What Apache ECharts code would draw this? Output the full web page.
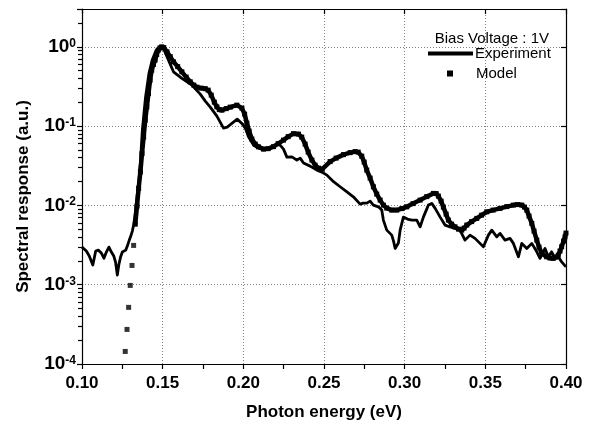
<!DOCTYPE html>
<html><head><meta charset="utf-8">
<script src="https://cdn.jsdelivr.net/npm/echarts@6/dist/echarts.min.js"></script>
<style>html,body{margin:0;padding:0;background:#fff}#c{width:596px;height:428px}</style>
</head><body><div id="c"></div>
<script>
// Experiment (photon energy in eV, spectral response a.u.)
const expE = [
 0.1000,0.1027,0.1045,0.1067,0.1085,0.1101,0.1120,0.1136,0.1151,0.1167,
 0.1182,0.1197,0.1208,0.1219,0.1228,0.1239,0.1250,0.1260,0.1271,0.1281,
 0.1293,0.1301,0.1312,0.1322,0.1332,0.1343,0.1353,0.1363,0.1374,0.1384,
 0.1394,0.1415,0.1435,0.1460,0.1481,0.1491,0.1505,0.1536,0.1567,0.1619,
 0.1681,0.1733,0.1764,0.1795,0.1836,0.1877,0.1900,0.1929,0.1962,0.1991,
 0.2012,0.2032,0.2063,0.2086,0.2117,0.2156,0.2185,0.2210,0.2228,0.2249,
 0.2270,0.2301,0.2332,0.2352,0.2373,0.2414,0.2456,0.2487,0.2518,0.2559,
 0.2600,0.2642,0.2682,0.2724,0.2743,0.2765,0.2786,0.2806,0.2837,0.2858,
 0.2868,0.2889,0.2920,0.2931,0.2941,0.2961,0.2972,0.2992,0.3017,0.3044,
 0.3075,0.3096,0.3116,0.3147,0.3168,0.3189,0.3220,0.3250,0.3281,0.3312,
 0.3343,0.3374,0.3405,0.3436,0.3467,0.3488,0.3519,0.3540,0.3571,0.3591,
 0.3622,0.3653,0.3674,0.3705,0.3726,0.3757,0.3788,0.3819,0.3839,0.3870,
 0.3890,0.3911,0.3932,0.3952,0.3973,0.4000];
const expV = [
 0.00298,0.00266,0.00230,0.00177,0.00266,0.00273,0.00251,0.00216,0.00258,0.00298,
 0.00258,0.00230,0.00193,0.00132,0.00177,0.00223,0.00258,0.00273,0.00273,0.00307,
 0.00365,0.00402,0.00474,0.00593,0.00873,0.01416,0.02084,0.03727,0.0891,0.1446,
 0.234,0.462,0.680,0.909,0.99,1.0,0.955,0.680,0.484,0.3995,
 0.329,0.2532,0.2066,0.1736,0.1337,0.0944,0.0971,0.1081,0.1225,0.1081,
 0.0944,0.0733,0.0576,0.0536,0.0520,0.0528,0.0559,0.0593,0.0576,0.0513,
 0.0407,0.0410,0.0373,0.0395,0.0342,0.0313,0.0279,0.0263,0.0241,0.0199,
 0.0172,0.01484,0.01284,0.01038,0.01069,0.01069,0.01133,0.01009,0.00960,0.00873,
 0.00653,0.00488,0.00422,0.00355,0.00287,0.00335,0.00488,0.00712,0.00672,0.00653,
 0.00653,0.00537,0.00712,0.01009,0.0106,0.00917,0.00712,0.00565,0.00537,0.00513,
 0.00488,0.00365,0.00422,0.00384,0.00332,0.00301,0.00422,0.00488,0.00402,0.00444,
 0.00365,0.00384,0.00332,0.00225,0.00332,0.00287,0.00332,0.0026,0.00215,0.00287,
 0.00225,0.0026,0.00215,0.00225,0.00194,0.00168];

// Model, sparse low-energy points (drawn as separate squares)
const modelLowE = [0.1268,0.1279,0.1289,0.1299,0.1310,0.1320];
const modelLowV = [0.000144,0.000273,0.000518,0.00098,0.00175,0.00313];

// Model, dense part
const modelE = [
 0.1330,0.1341,0.1351,0.1362,0.1372,0.1382,0.1392,0.1402,0.1412,0.1422,
 0.1432,0.1443,0.1453,0.1463,0.1473,0.1483,0.1494,0.1507,0.1527,0.1547,
 0.1567,0.1593,0.1619,0.1646,0.1671,0.1693,0.1712,0.1739,0.1764,0.1782,
 0.1801,0.1820,0.1836,0.1851,0.1867,0.1894,0.1919,0.1960,0.1991,0.2008,
 0.2022,0.2036,0.2053,0.2074,0.2094,0.2125,0.2154,0.2187,0.2216,0.2249,
 0.2278,0.2311,0.2342,0.2362,0.2383,0.2402,0.2425,0.2445,0.2466,0.2489,
 0.2538,0.2575,0.2621,0.2662,0.2693,0.2712,0.2734,0.2749,0.2765,0.2786,
 0.2806,0.2827,0.2848,0.2868,0.2889,0.2920,0.2951,0.2982,0.3013,0.3052,
 0.3096,0.3137,0.3178,0.3195,0.3209,0.3226,0.3240,0.3257,0.3271,0.3291,
 0.3312,0.3334,0.3354,0.3368,0.3385,0.3415,0.3447,0.3477,0.3509,0.3548,
 0.3591,0.3633,0.3674,0.3700,0.3726,0.3743,0.3757,0.3771,0.3788,0.3802,
 0.3819,0.3833,0.3850,0.3880,0.3901,0.3921,0.3938,0.3952,0.3963,0.3973,
 0.3985,0.3994,0.4000];
const modelV = [
 0.0058,0.0098,0.0164,0.0265,0.045,0.073,0.119,0.175,0.258,0.38,
 0.508,0.60,0.68,0.80,0.91,0.97,1.0,0.977,0.865,0.752,
 0.647,0.563,0.484,0.415,0.362,0.329,0.310,0.3014,0.297,0.2844,
 0.246,0.2008,0.175,0.1615,0.159,0.1663,0.1737,0.184,0.1686,0.1417,
 0.109,0.0865,0.0686,0.0593,0.0548,0.0513,0.0520,0.0551,0.0602,0.0666,
 0.0737,0.0804,0.0793,0.0727,0.0593,0.0470,0.0373,0.0322,0.0295,0.0287,
 0.0357,0.0395,0.0437,0.0463,0.0477,0.0470,0.0418,0.0352,0.0279,0.0221,
 0.0172,0.0139,0.01167,0.01009,0.00925,0.00873,0.00873,0.00912,0.00960,0.01054,
 0.01167,0.01291,0.01417,0.0141,0.0131,0.01133,0.00952,0.00777,0.00653,0.00581,
 0.00537,0.00502,0.00488,0.00517,0.00565,0.00625,0.00686,0.00754,0.00830,0.00873,
 0.00917,0.00966,0.01009,0.01024,0.01009,0.00952,0.00873,0.00733,0.00593,0.00474,
 0.00365,0.00298,0.00248,0.00225,0.00217,0.00215,0.00223,0.00236,0.00266,0.00301,
 0.00355,0.00402,0.00448];

const xMin = 0.10, xMax = 0.40, xStep = 0.05;
const yMin = 1e-4, yMax = 3;
const titleText = 'Bias Voltage : 1V';
const seriesNames = ['Experiment', 'Model'];
const xName = 'Photon energy (eV)';
const yName = 'Spectral response (a.u.)';

const zip = (a, b) => a.map((v, i) => [v, b[i]]);
const FONT = 'Liberation Sans, Arial, Helvetica, sans-serif';

const chart = echarts.init(document.getElementById('c'));
const GRID_COLOR = '#7f7f7f';

const xBottom = {
  type: 'value', min: xMin, max: xMax, interval: xStep, position: 'bottom',
  axisLine: {show: true, onZero: false, lineStyle: {color: '#000', width: 1.2}},
  axisTick: {show: true, inside: false, length: 5, lineStyle: {color: '#000', width: 1.2}},
  minorTick: {show: true, splitNumber: 2, length: 5, lineStyle: {color: '#000', width: 1.2}},
  splitLine: {show: true, lineStyle: {color: GRID_COLOR, type: [1, 2], width: 1}},
  name: xName, nameLocation: 'middle', nameGap: 40,
  nameTextStyle: {fontFamily: FONT, fontSize: 17, fontWeight: 'bold', color: '#000'},
  axisLabel: {show: true, margin: 11, fontFamily: FONT, fontSize: 17, fontWeight: 'bold', color: '#000',
    formatter: v => v.toFixed(2)}
};
const xTop = {
  type: 'value', min: xMin, max: xMax, interval: xStep, position: 'top',
  axisLine: {show: true, lineStyle: {color: '#000', width: 1.2}},
  axisTick: {show: true, inside: true, length: 5, lineStyle: {color: '#000', width: 1.2}},
  axisLabel: {show: true, formatter: () => ''},
  splitLine: {show: false}
};
const yLeft = {
  type: 'log', logBase: 10, min: yMin, max: yMax, position: 'left',
  axisLine: {show: true, onZero: false, lineStyle: {color: '#000', width: 1.2}},
  axisTick: {show: true, inside: false, length: 5, lineStyle: {color: '#000', width: 1.2}},
  minorTick: {show: true, splitNumber: 9, length: 4, lineStyle: {color: '#000', width: 1.2}},
  splitLine: {show: true, lineStyle: {color: GRID_COLOR, type: [1, 2], width: 1}},
  name: yName, nameLocation: 'middle', nameGap: 50,
  nameTextStyle: {fontFamily: FONT, fontSize: 17, fontWeight: 'bold', color: '#000', padding: [0, 20, 0, 0]},
  axisLabel: {
    show: true, margin: 6, showMaxLabel: false,
    formatter: v => '{b|10}{s|' + Math.round(Math.log10(v)) + '}',
    rich: {
      b: {fontFamily: FONT, fontSize: 19, fontWeight: 'bold', color: '#000'},
      s: {fontFamily: FONT, fontSize: 12, fontWeight: 'bold', color: '#000', verticalAlign: 'top'}
    }
  }
};
const yRight = {
  type: 'log', logBase: 10, min: yMin, max: yMax, position: 'right',
  axisLine: {show: true, lineStyle: {color: '#000', width: 1.2}},
  axisTick: {show: true, inside: true, length: 5, lineStyle: {color: '#000', width: 1.2}},
  axisLabel: {show: true, formatter: () => ''},
  splitLine: {show: false}
};

chart.setOption({
  animation: false,
  title: {
    text: titleText, right: 42, top: 26,
    textStyle: {fontFamily: FONT, fontSize: 15, fontWeight: 'normal', color: '#000'}
  },
  legend: [
    {
      data: [{name: seriesNames[0], icon: 'rect'}],
      left: 428, top: 46, itemWidth: 45, itemHeight: 4, padding: 0,
      selectedMode: false,
      itemStyle: {color: '#000'},
      textStyle: {fontFamily: FONT, fontSize: 15, color: '#000', padding: [0, 0, 0, -3]}
    },
    {
      data: [{name: seriesNames[1], icon: 'rect'}],
      left: 447, top: 66, itemWidth: 6, itemHeight: 6, padding: 0,
      selectedMode: false,
      itemStyle: {color: '#000'},
      textStyle: {fontFamily: FONT, fontSize: 15, color: '#000', padding: [0, 0, 0, 18]}
    }
  ],
  grid: {left: 82, right: 30, top: 9, bottom: 64},
  xAxis: [xBottom, xTop],
  yAxis: [yLeft, yRight],
  series: [
    {
      name: seriesNames[0], type: 'line', xAxisIndex: 0, yAxisIndex: 0,
      data: zip(expE, expV), showSymbol: false, symbol: 'none',
      lineStyle: {color: '#000', width: 2.8, join: 'round'}, itemStyle: {color: '#000'}, z: 3
    },
    {
      name: seriesNames[1], type: 'line', xAxisIndex: 0, yAxisIndex: 0,
      data: zip(modelE, modelV), symbol: 'rect', symbolSize: 5, showSymbol: true,
      lineStyle: {color: '#000', width: 4.5}, itemStyle: {color: '#000'}, z: 2
    },
    {
      name: seriesNames[1], type: 'scatter', xAxisIndex: 0, yAxisIndex: 0,
      data: zip(modelLowE, modelLowV), symbol: 'rect', symbolSize: 5,
      itemStyle: {color: '#000'}, z: 2
    }
  ]
});
</script></body></html>
